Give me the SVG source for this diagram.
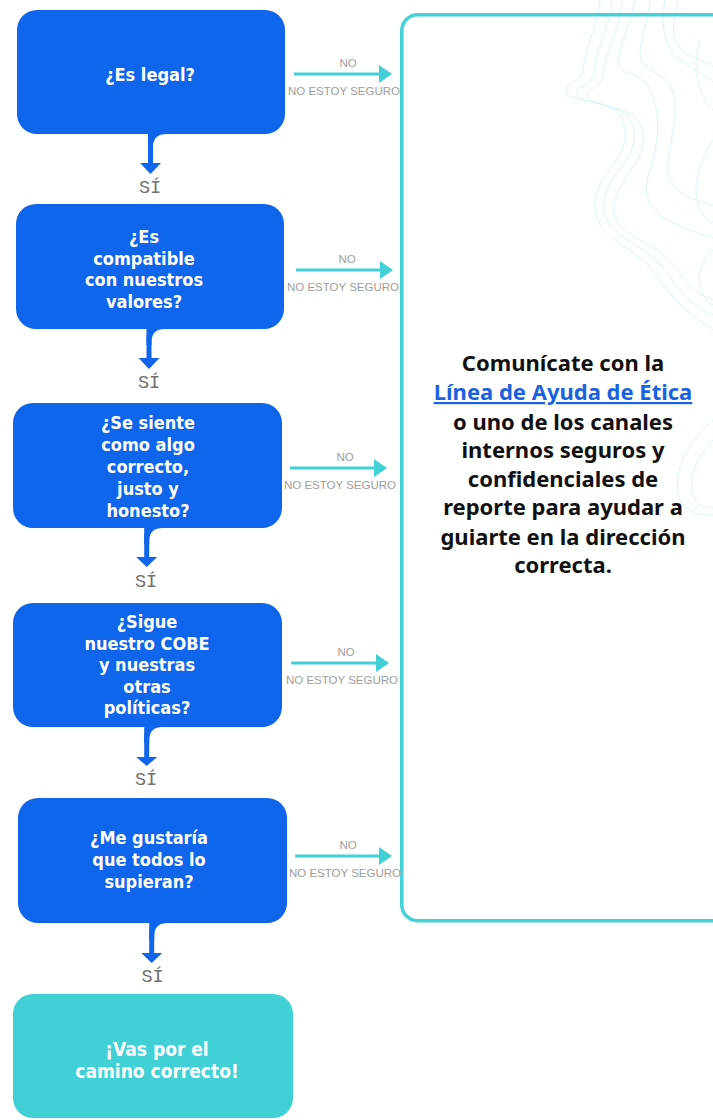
<svg xmlns="http://www.w3.org/2000/svg" width="713" height="1120" viewBox="0 0 713 1120">
<defs>
<style>
.q{fill:#0F65EC}
.qt{font-family:"DejaVu Sans Condensed","DejaVu Sans",sans-serif;font-stretch:condensed;font-weight:700;font-size:18px;fill:#fff;text-anchor:middle}
.rt{font-size:19px}
.stem{stroke:#0F65EC;stroke-width:5;fill:none}
.head{fill:#0F65EC}
.si{font-family:"Liberation Mono",monospace;font-size:18.5px;fill:#707070;text-anchor:middle}
.no{stroke:#42D0D7;stroke-width:3;fill:none}
.noh{fill:#42D0D7}
.lbl{font-family:"Liberation Sans",Arial,sans-serif;font-size:11.5px;fill:#9d9d9d;text-anchor:middle}
.topo{fill:none;stroke:#d5f3f5;stroke-width:0.9}
.pt{font-family:"Noto Sans","Open Sans",sans-serif;font-weight:700;font-size:22px;fill:#111;text-anchor:middle}
.lnk{fill:#1A62E0;text-decoration:underline}
</style>
</defs>
<rect width="713" height="1120" fill="#fff"/>

<g id="contours">
<path class="topo" d="M600,0 C600,20 585,45 583,70 C582,85 560,80 568,95 C580,105 620,95 625,130 C628,160 600,170 595,200 C590,240 640,245 660,280 C680,310 700,320 713,330"/>
<path class="topo" d="M612,0 C612,22 596,48 594,72 C592,88 572,84 578,96 C590,108 630,100 634,132 C636,162 608,172 604,202 C600,238 648,242 668,274 C684,300 700,308 713,315"/>
<path class="topo" d="M622,0 C622,22 606,50 603,74 C601,90 583,88 588,98 C600,110 640,104 643,134 C646,164 618,176 614,206 C610,236 656,240 676,268 C690,290 702,296 713,300"/>
<path class="topo" d="M635,0 C630,25 620,45 618,60 C616,75 640,70 650,90 C660,110 660,140 650,170 C640,200 650,215 690,230 C705,236 713,238 713,238"/>
<path class="topo" d="M665,0 C660,25 665,50 680,60 C700,72 712,80 713,82"/>
<path class="topo" d="M678,0 C672,22 668,45 690,55 C705,62 713,66 713,66"/>
<path class="topo" d="M650,0 C648,20 640,40 640,55 C640,70 665,72 672,90 C680,110 670,140 668,165 C666,190 690,200 713,205"/>
<path class="topo" d="M700,40 C690,70 700,100 713,110"/>
<path class="topo" d="M713,140 C700,160 690,190 700,210 C705,220 713,222 713,222"/>
<path class="topo" d="M713,250 C690,270 700,300 713,305"/>
<path class="topo" d="M713,420 C690,440 670,470 680,500 C685,512 700,515 713,515"/>
<path class="topo" d="M713,440 C698,456 686,478 694,498 C698,506 706,508 713,508"/>
</g>

<g id="panel">
<rect x="401.75" y="14.75" width="360" height="906" rx="16" ry="16" fill="none" stroke="#42D2D8" stroke-width="3.5"/>
<text class="pt" x="563" y="371">Comunícate con la<tspan class="lnk" x="563" dy="29">Línea de Ayuda de Ética</tspan><tspan x="563" dy="30">o uno de los canales</tspan><tspan x="563" dy="28">internos seguros y</tspan><tspan x="563" dy="29">confidenciales de</tspan><tspan x="563" dy="28">reporte para ayudar a</tspan><tspan x="563" dy="30">guiarte en la dirección</tspan><tspan x="563" dy="28">correcta.</tspan></text>
</g>

<g id="q1">
<path class="q" d="M37,10 H265 A20,20 0 0 1 285,30 V114 A20,20 0 0 1 265,134 H167 Q153,134 153,147 V150 H148 V134 H37 A20,20 0 0 1 17,114 V30 A20,20 0 0 1 37,10 Z"/>
<text class="qt" x="150" y="81">¿Es legal?</text>
</g>

<g id="q2">
<path class="q" d="M36,204 H264 A20,20 0 0 1 284,224 V309 A20,20 0 0 1 264,329 H165 Q151.5,329 151.5,342 V345 H146.5 V329 H36 A20,20 0 0 1 16,309 V224 A20,20 0 0 1 36,204 Z"/>
<text class="qt" x="144" y="243">¿Es<tspan x="144" dy="21.5">compatible</tspan><tspan x="144" dy="21.5">con nuestros</tspan><tspan x="144" dy="21.5">valores?</tspan></text>
</g>

<g id="q3">
<path class="q" d="M33,403 H262 A20,20 0 0 1 282,423 V508 A20,20 0 0 1 262,528 H163 Q149.2,528 149.2,541 V544 H144.2 V528 H33 A20,20 0 0 1 13,508 V423 A20,20 0 0 1 33,403 Z"/>
<text class="qt" x="148" y="429">¿Se siente<tspan x="148" dy="22">como algo</tspan><tspan x="148" dy="22">correcto,</tspan><tspan x="148" dy="22">justo y</tspan><tspan x="148" dy="22">honesto?</tspan></text>
</g>

<g id="q4">
<path class="q" d="M33,603 H262 A20,20 0 0 1 282,623 V707 A20,20 0 0 1 262,727 H163 Q149.2,727 149.2,740 V743 H144.2 V727 H33 A20,20 0 0 1 13,707 V623 A20,20 0 0 1 33,603 Z"/>
<text class="qt" x="147" y="628">¿Sigue<tspan x="147" dy="21.5">nuestro COBE</tspan><tspan x="147" dy="21.5">y nuestras</tspan><tspan x="147" dy="21.5">otras</tspan><tspan x="147" dy="21.5">políticas?</tspan></text>
</g>

<g id="q5">
<path class="q" d="M38,798 H267 A20,20 0 0 1 287,818 V903 A20,20 0 0 1 267,923 H168 Q154.2,923 154.2,936 V939 H149.2 V923 H38 A20,20 0 0 1 18,903 V818 A20,20 0 0 1 38,798 Z"/>
<text class="qt" x="149" y="844">¿Me gustaría<tspan x="149" dy="22">que todos lo</tspan><tspan x="149" dy="22">supieran?</tspan></text>
</g>

<g id="result">
<rect x="13" y="994" width="280" height="124" rx="20" ry="20" fill="#41D0D6"/>
<text class="qt rt" x="157" y="1056">¡Vas por el<tspan x="157" dy="22">camino correcto!</tspan></text>
</g>

<g id="connectors">
<line class="stem" x1="150.5" y1="140" x2="150.5" y2="164"/>
<polygon class="head" points="140,163 161,163 150.5,174"/>
<text class="si" x="150" y="193">SÍ</text>
<line class="stem" x1="149" y1="335" x2="149" y2="359"/>
<polygon class="head" points="138.5,358 159.5,358 149,369"/>
<text class="si" x="149" y="388">SÍ</text>
<line class="stem" x1="146.7" y1="534" x2="146.7" y2="558"/>
<polygon class="head" points="136.2,557 157.2,557 146.7,567"/>
<text class="si" x="146" y="587">SÍ</text>
<line class="stem" x1="146.7" y1="733" x2="146.7" y2="758"/>
<polygon class="head" points="136.2,757 157.2,757 146.7,766"/>
<text class="si" x="146" y="785">SÍ</text>
<line class="stem" x1="151.7" y1="929" x2="151.7" y2="954"/>
<polygon class="head" points="141.2,953 162.2,953 151.7,963"/>
<text class="si" x="152.5" y="982">SÍ</text>

<line class="no" x1="294" y1="74" x2="382" y2="74"/>
<polygon class="noh" points="379,65 392,74 379,83"/>
<text class="lbl" x="348" y="67">NO</text>
<text class="lbl" x="344" y="95">NO ESTOY SEGURO</text>

<line class="no" x1="296" y1="270" x2="383" y2="270"/>
<polygon class="noh" points="380,261 393,270 380,279"/>
<text class="lbl" x="347" y="263">NO</text>
<text class="lbl" x="343" y="291">NO ESTOY SEGURO</text>

<line class="no" x1="290" y1="468" x2="377" y2="468"/>
<polygon class="noh" points="374,459 387,468 374,477"/>
<text class="lbl" x="345" y="461">NO</text>
<text class="lbl" x="340" y="489">NO ESTOY SEGURO</text>

<line class="no" x1="291" y1="663" x2="379" y2="663"/>
<polygon class="noh" points="376,654 389,663 376,672"/>
<text class="lbl" x="346" y="656">NO</text>
<text class="lbl" x="342" y="684">NO ESTOY SEGURO</text>

<line class="no" x1="295" y1="856" x2="382" y2="856"/>
<polygon class="noh" points="379,847 392,856 379,865"/>
<text class="lbl" x="348" y="849">NO</text>
<text class="lbl" x="345" y="877">NO ESTOY SEGURO</text>
</g>
</svg>
